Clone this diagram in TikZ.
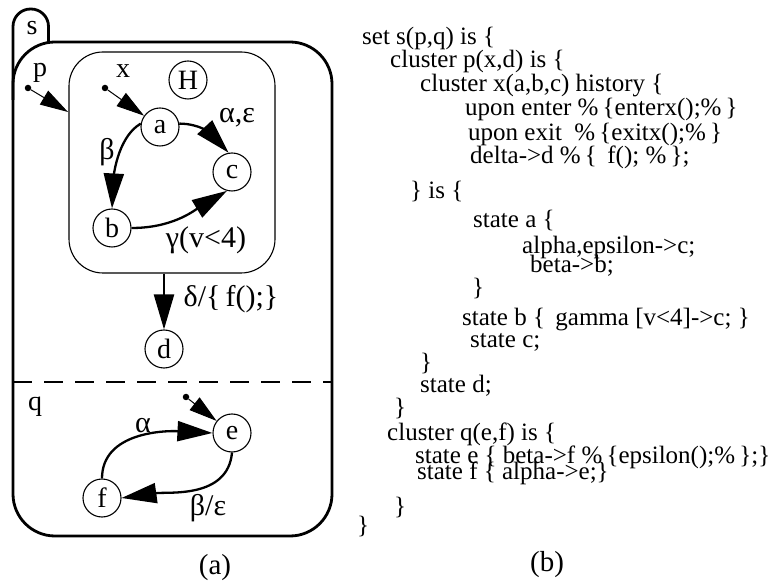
\documentclass[tikz,border=0pt]{standalone}
\usepackage{fontspec}
\setmainfont{Liberation Serif}
\usetikzlibrary{arrows.meta}

\begin{document}
\begin{tikzpicture}[x=1pt,y=1pt,
  state/.style={circle,draw,line width=1.1pt,minimum size=38pt,inner sep=0pt,
    font=\fontsize{28}{28}\selectfont},
  lbl/.style={inner sep=0pt,anchor=base,font=\fontsize{28}{28}\selectfont},
  greek/.style={lbl,font=\fontsize{30}{30}\selectfont},
  code/.style={inner sep=0pt,anchor=base west,font=\fontsize{25}{25}\selectfont},
  trans/.style={line width=2.3pt,-{Triangle[length=35pt,width=20pt]}},
  initarrow/.style={line width=1pt,-{Triangle[length=28pt,width=16pt]}},
  startdot/.style={circle,fill,inner sep=0pt,minimum size=6.5pt},
  boxline/.style={line width=2.8pt}]

\useasboundingbox (0,0) rectangle (781,581);

% set s: outer box with its name tab
\node[draw,boxline,rounded corners=42pt,minimum width=319pt,minimum height=494pt,inner sep=0pt]
  (sbox) at (172.5,292) {};
\draw[boxline,rounded corners=17.5pt] (13,481) -- (13,572) -- (48.5,572) -- (48.5,539);
\node[lbl] (slbl) at (32,546) {s};

% separator between clusters p and q
\coordinate (dashL) at (13,199);
\coordinate (dashR) at (333,199);
\draw[boxline,dash pattern=on 19pt off 12pt] (dashL) -- (dashR);

% cluster x with history
\node[draw,line width=1.1pt,rounded corners=34pt,minimum width=206pt,minimum height=221pt,inner sep=0pt]
  (xbox) at (172,418.5) {};
\node[state] (H) at (188,501) {H};

% states
\node[state] (a) at (160,454) {a};
\node[state] (c) at (232,409) {c};
\node[state] (b) at (112,353) {b};
\node[state] (d) at (164,232) {d};
\node[state] (e) at (232,148) {e};
\node[state] (f) at (102,83) {f};

% default entries
\node[startdot] (pdot) at (28,493) {};
\coordinate (pin) at (68,469);
\draw[initarrow] (pdot) -- (pin);
\node[startdot] (xdot) at (105,493) {};
\draw[initarrow] (xdot) -- (a);
\node[startdot] (edot) at (186,184) {};
\draw[initarrow] (edot) -- (e);

% transitions
\draw[trans] (a.10) to[out=0,in=133] (c.100);
\draw[trans] (a.170) to[out=210,in=87,looseness=0.8] (b.north);
\draw[trans] (b.east) to[out=0,in=211] (c.255);
\draw[trans] (d |- xbox.south) -- (d.north);
\draw[trans] (f.north) to[out=90,in=177] (e.west);
\draw[trans] (e.south) to[out=-95,in=8] (f.east);

% labels
\node[lbl] (plbl) at (40,504) {p};
\node[lbl] (xlbl) at (123,503) {x};
\node[lbl] (qlbl) at (35,170) {q};
\node[greek] (l1) at (237,458) {α,ε};
\node[greek] (l2) at (107,421) {β};
\node[greek] (l3) at (206,333) {γ(v<4)};
\node[greek] (l4) at (231,274) {δ/\{\,f();\}};
\node[greek] (l5) at (143,149) {α};
\node[greek] (l6) at (208,66) {β/ε};
\node[lbl,font=\fontsize{29}{29}\selectfont] (capa) at (215,7) {(a)};
\node[lbl,font=\fontsize{29}{29}\selectfont] (capb) at (547,10) {(b)};

% textual form
\node[code] (t1)  at (362,536) {set s(p,q) is \{};
\node[code] (t2)  at (390,513) {cluster p(x,d) is \{};
\node[code] (t3)  at (420,489) {cluster x(a,b,c) history \{};
\node[code] (t4)  at (465,465) {upon enter \%\,\{enterx();\%\,\}};
\node[code] (t5)  at (468,440) {upon exit\ \ \%\,\{exitx();\%\,\}};
\node[code] (t6)  at (470,417) {delta->d \%\,\{ \,f(); \%\,\};};
\node[code] (t7)  at (410,382) {\} is \{};
\node[code] (t8)  at (473,353) {state a \{};
\node[code] (t9)  at (522,327) {alpha,epsilon->c;};
\node[code] (t10) at (530,308) {beta->b;};
\node[code] (t11) at (472,285) {\}};
\node[code] (t12) at (462,255) {state b \{ \,gamma [v<4]->c; \}};
\node[code] (t13) at (470,233) {state c;};
\node[code] (t14) at (420,210) {\}};
\node[code] (t15) at (420,188) {state d;};
\node[code] (t16) at (394,165) {\}};
\node[code] (t17) at (387,140) {cluster q(e,f) is \{};
\node[code] (t18) at (415,118) {state e \{ beta->f \%\,\{epsilon();\%\,\};\}};
\node[code] (t19) at (417,102) {state f \{ alpha->e;\}};
\node[code] (t20) at (394,67)  {\}};
\node[code] (t21) at (357,48)  {\}};
\end{tikzpicture}
\end{document}
